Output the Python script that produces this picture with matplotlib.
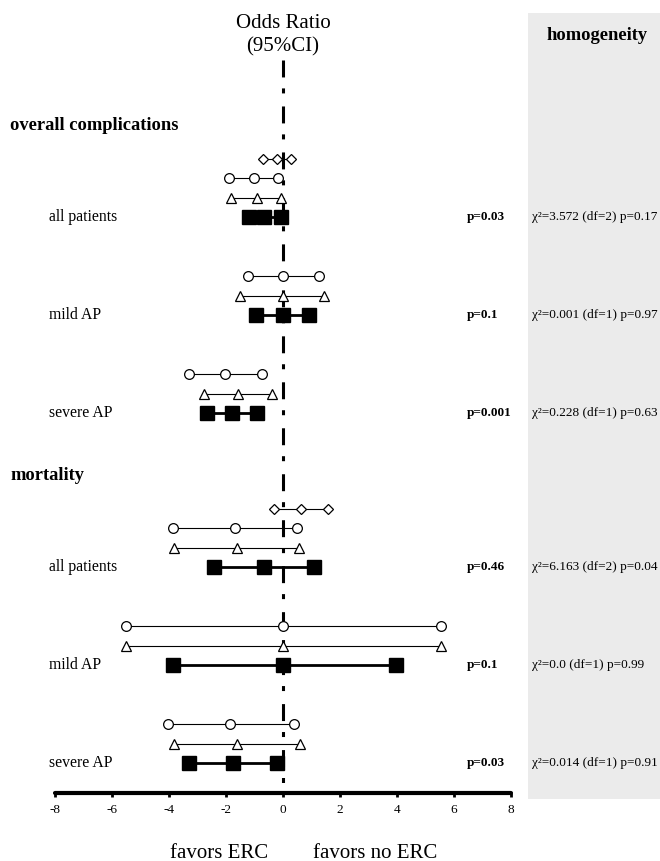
import matplotlib
matplotlib.use("Agg")
import matplotlib.pyplot as plt
from matplotlib.patches import Rectangle

plt.rcParams['font.family'] = ['Liberation Serif', 'DejaVu Serif']
plt.rcParams['lines.scale_dashes'] = False

# ---------------- data ----------------
groups = ["overall complications", "mortality"]
subgroups = ["all patients", "mild AP", "severe AP"]

# [lower, estimate, upper] per subgroup (overall: all, mild, severe; mortality: all, mild, severe)
squares = [[-1.19, -0.67, -0.07], [-0.95, 0.0, 0.91], [-2.67, -1.79, -0.91],
           [-2.41, -0.66, 1.10], [-3.86, 0.0, 3.96], [-3.29, -1.74, -0.21]]
triangles = [[-1.82, -0.91, -0.07], [-1.51, 0.0, 1.44], [-2.77, -1.58, -0.39],
             [-3.81, -1.61, 0.55], [-5.51, 0.0, 5.56], [-3.82, -1.62, 0.61]]
circles = [[-1.89, -1.02, -0.18], [-1.23, 0.0, 1.26], [-3.30, -2.04, -0.74],
           [-3.85, -1.68, 0.48], [-5.51, 0.0, 5.56], [-4.03, -1.85, 0.38]]
diamonds = [[-0.70, -0.21, 0.28], None, None,
            [-0.32, 0.63, 1.58], None, None]

p_values = ["p=0.03", "p=0.1", "p=0.001", "p=0.46", "p=0.1", "p=0.03"]
homogeneity = ["χ²=3.572 (df=2) p=0.17", "χ²=0.001 (df=1) p=0.97",
               "χ²=0.228 (df=1) p=0.63", "χ²=6.163 (df=2) p=0.04",
               "χ²=0.0 (df=1) p=0.99", "χ²=0.014 (df=1) p=0.91"]

xticks = [-8, -6, -4, -2, 0, 2, 4, 6, 8]

# ---------------- layout (pixels) ----------------
W, H = 660, 861
fig = plt.figure(figsize=(W / 100, H / 100), dpi=100)
AX_L, AX_R, AX_B = 55, 511, 793
ax = fig.add_axes([AX_L / W, (H - AX_B) / H, (AX_R - AX_L) / W, AX_B / H])
ax.set_xlim(-8, 8)
ax.set_ylim(AX_B, 0)

group_first_row = [217, 567]
row_step = 98.0
header_off = -92
off_tri, off_cir, off_dia = -19.5, -39.0, -58.5

def fx(px):
    return px / W

def fy(py):
    return 1 - py / H

# gray homogeneity panel
fig.patches.append(Rectangle((fx(528), fy(799)), fx(W) - fx(528), fy(13) - fy(799),
                             transform=fig.transFigure, facecolor='#ebebeb',
                             edgecolor='none', zorder=0))

# centre reference line (dash-dot)
ax.vlines(0, 60, 788, colors='black', linewidth=2.2,
          linestyles=[(0, (12.2, 7.9, 3.6, 9.4))], zorder=1)

row_y = []
for g in range(len(groups)):
    for s in range(len(subgroups)):
        row_y.append(group_first_row[g] + s * row_step)

for i, y in enumerate(row_y):
    ax.plot(squares[i], [y] * 3, color='black', lw=2.0, marker='s', ms=9.5,
            mfc='black', mec='black', zorder=3)
    ax.plot(triangles[i], [y + off_tri] * 3, color='black', lw=0.8, marker='^',
            ms=7, mfc='white', mec='black', mew=0.9, zorder=3)
    ax.plot(circles[i], [y + off_cir] * 3, color='black', lw=0.8, marker='o',
            ms=7, mfc='white', mec='black', mew=0.9, zorder=3)
    if diamonds[i] is not None:
        ax.plot(diamonds[i], [y + off_dia] * 3, color='black', lw=0.8, marker='D',
                ms=5.5, mfc='white', mec='black', mew=0.9, zorder=3)

# axis styling
for side in ['left', 'top', 'right']:
    ax.spines[side].set_visible(False)
ax.spines['bottom'].set_linewidth(3)
ax.spines['bottom'].set_capstyle('round')
ax.set_xticks(xticks)
ax.set_xticklabels([str(t) for t in xticks])
ax.tick_params(axis='x', direction='out', length=3, width=2, labelsize=9.5, pad=5)
ax.set_yticks([])
ax.patch.set_alpha(0)

# texts
fig.text(fx(283), fy(23), "Odds Ratio", ha='center', va='center', fontsize=15)
fig.text(fx(283), fy(47), "(95%CI)", ha='center', va='center', fontsize=15)
fig.text(fx(597), fy(36), "homogeneity", ha='center', va='center', fontsize=13.3,
         fontweight='bold')

for g, name in enumerate(groups):
    fig.text(fx(10), fy(group_first_row[g] + header_off), name, ha='left',
             va='center', fontsize=13.3, fontweight='bold')

for i, y in enumerate(row_y):
    fig.text(fx(49), fy(y), subgroups[i % 3], ha='left', va='center', fontsize=11.3)
    fig.text(fx(467), fy(y), p_values[i], ha='left', va='center', fontsize=9.5,
             fontweight='bold')
    fig.text(fx(532), fy(y), homogeneity[i], ha='left', va='center', fontsize=9.5)

fig.text(fx(219), fy(853), "favors ERC", ha='center', va='center', fontsize=15)
fig.text(fx(375), fy(853), "favors no ERC", ha='center', va='center', fontsize=15)

fig.savefig("out.png", dpi=100)
